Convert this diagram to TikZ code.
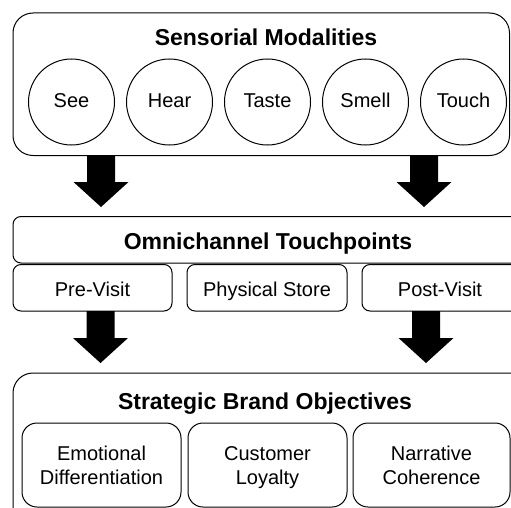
\documentclass[tikz,border=0pt]{standalone}
\usepackage{fontspec}
\setmainfont{Liberation Sans}
\usetikzlibrary{calc}
\tikzset{
  box/.style={draw=black, line width=1pt, rounded corners=#1, inner sep=0pt},
  box/.default=8pt,
  sense/.style={draw=black, line width=1pt, circle, minimum size=86pt, inner sep=0pt},
  sensetxt/.style={font=\fontsize{20}{24}\selectfont, inner sep=0pt, anchor=base},
  ttl/.style={font=\fontsize{23}{27}\selectfont\bfseries, inner sep=0pt, anchor=base},
  lbl/.style={font=\fontsize{20}{24.3}\selectfont, inner sep=0pt, align=center, anchor=base},
}
\newcommand\blockarrow[2]{%
  \fill[black] let \p1=(#1), \p2=(#2) in
    (\x1-14pt,\y1) -- (\x1+14pt,\y1) -- (\x1+14pt,\y2+25pt) -- (\x1+27.5pt,\y2+25pt)
    -- (\x1,\y2) -- (\x1-27.5pt,\y2+25pt) -- (\x1-14pt,\y2+25pt) -- cycle;}
\begin{document}
\begin{tikzpicture}[x=1pt,y=-1pt]
\useasboundingbox (0,0) rectangle (511,508);
\clip (0,0) rectangle (511,508);
% Sensorial modalities
\draw[box=20pt] (13,13) rectangle (509.5,155.5);
\node[ttl] (sens) at (266,45.5) {Sensorial Modalities};
\node[sense] (see) at (71.5,102) {};
\node[sense] (hear) at (169.5,102) {};
\node[sense] (taste) at (267.5,102) {};
\node[sense] (smell) at (365.5,102) {};
\node[sense] (touch) at (463.5,102) {};
\node[sensetxt] (seet) at (71.5,107.5) {See};
\node[sensetxt] (heart) at (169.5,107.5) {Hear};
\node[sensetxt] (tastet) at (267.5,107.5) {Taste};
\node[sensetxt] (smellt) at (365.5,107.5) {Smell};
\node[sensetxt] (toucht) at (463.5,107.5) {Touch};
% arrows top
\coordinate (a1s) at (101,156);
\coordinate (a1e) at (101,207);
\coordinate (a2s) at (424,156);
\coordinate (a2e) at (424,207);
\blockarrow{a1s}{a1e}
\blockarrow{a2s}{a2e}
% Omnichannel
\draw[box=8pt] (13,216.5) rectangle (530,263);
\node[ttl] (omni) at (268,249) {Omnichannel Touchpoints};
\draw[box=8pt] (13,264.5) rectangle (172,311);
\node[lbl] (pre) at (92.5,296.5) {Pre-Visit};
\draw[box=8pt] (187,264.5) rectangle (347,311);
\node[lbl] (phys) at (267,296.5) {Physical Store};
\draw[box=8pt] (362,264.5) rectangle (530,311);
\node[lbl] (post) at (440,296.5) {Post-Visit};
% arrows bottom
\coordinate (b1s) at (100.5,311);
\coordinate (b1e) at (100.5,363);
\coordinate (b2s) at (426,311);
\coordinate (b2e) at (426,363);
\blockarrow{b1s}{b1e}
\blockarrow{b2s}{b2e}
% Strategic objectives
\draw[box=20pt] (13,373) rectangle (530,540);
\node[ttl] (strat) at (265,409) {Strategic Brand Objectives};
\draw[box=15pt] (22,423) rectangle (181,507);
\node[lbl] (emo) at (101.5,484.3) {Emotional\\Differentiation};
\draw[box=15pt] (188,423) rectangle (347,507);
\node[lbl] (loy) at (267.5,484.3) {Customer\\Loyalty};
\draw[box=15pt] (353,423) rectangle (510,507);
\node[lbl] (nar) at (431.5,484.3) {Narrative\\Coherence};
\end{tikzpicture}
\end{document}
